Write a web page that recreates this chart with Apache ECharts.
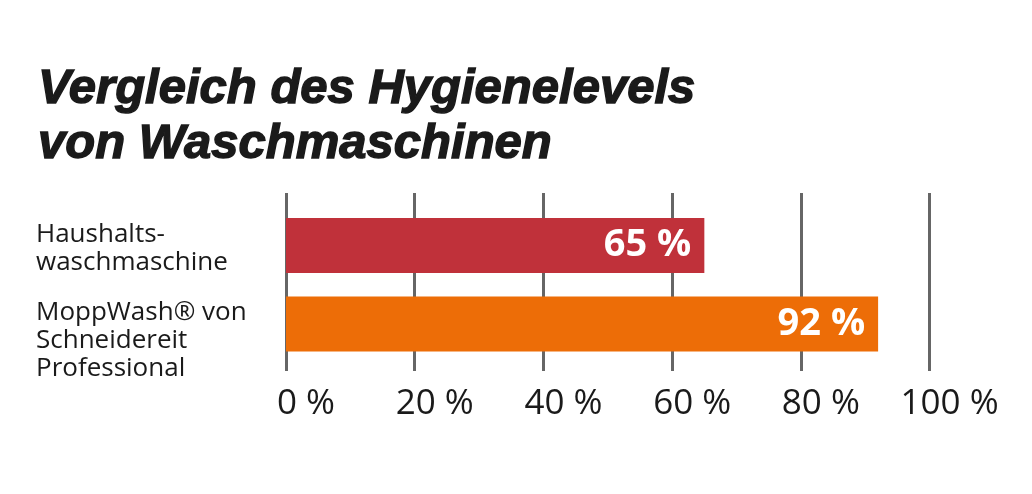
<!DOCTYPE html>
<html><head><meta charset="utf-8">
<script src="https://cdn.jsdelivr.net/npm/echarts@6/dist/echarts.min.js"></script>
<style>html,body{margin:0;padding:0;background:#fff}#c{width:1032px;height:494px}</style>
</head><body><div id="c"></div>
<script>
const titleLines = ['Vergleich des Hygienelevels', 'von Waschmaschinen'];
const categories = ['Haushalts-\nwaschmaschine', 'MoppWash® von\nSchneidereit\nProfessional'];
const values = [65, 92];
const barColors = ['#C0313A', '#ED6D07'];
const tickValues = [0, 20, 40, 60, 80, 100];

const chart = echarts.init(document.getElementById('c'));
const L = 286, R = 1032 - 929.6;
chart.setOption({
  animation: false,
  title: {
    text: titleLines.join('\n'), left: 33, top: 57,
    textStyle: { fontFamily: 'Liberation Sans', fontSize: 49, fontWeight: 'bold', fontStyle: 'italic', color: '#1a1a1a', lineHeight: 55,
      textBorderColor: '#1a1a1a', textBorderWidth: 1.4 }
  },
  grid: [
    { left: L, right: R, top: 206.25, height: 157 },
    { left: L, right: R, top: 193, height: 178 }
  ],
  xAxis: [
    { gridIndex: 0, type: 'value', min: 0, max: 100, interval: 20, show: false },
    { gridIndex: 1, type: 'value', min: 0, max: 100, interval: 20,
      axisLine: { show: false }, axisTick: { show: false },
      splitLine: { show: true, lineStyle: { color: '#666', width: 3 } },
      axisLabel: { formatter: v => v + ' %', fontFamily: 'Open Sans', fontSize: 35, color: '#1a1a1a', margin: 16, padding: [0, 0, 0, 40] } }
  ],
  yAxis: [
    { gridIndex: 0, type: 'category', inverse: true, data: categories,
      axisLine: { show: false }, axisTick: { show: false }, splitLine: { show: false },
      axisLabel: { align: 'left', margin: 250, verticalAlign: 'top', padding: [-25, 0, 0, 0], fontFamily: 'Open Sans', fontSize: 26, lineHeight: 28, color: '#1a1a1a' } },
    { gridIndex: 1, type: 'value', show: false }
  ],
  series: [{
    type: 'bar', xAxisIndex: 0, yAxisIndex: 0, barWidth: 55, z: 5,
    data: values.map((v, i) => ({ value: v, itemStyle: { color: barColors[i] } })),
    label: { show: true, position: 'insideRight', distance: 13, formatter: p => p.value + ' %',
      fontFamily: 'Open Sans', fontSize: 38, fontWeight: 'bold', color: '#fff' }
  }]
});
</script></body></html>
